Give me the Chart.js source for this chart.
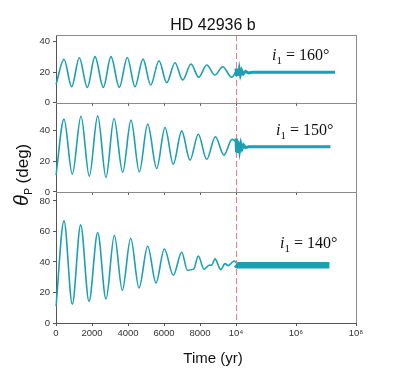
<!DOCTYPE html>
<html>
<head>
<meta charset="utf-8">
<script src="https://cdn.jsdelivr.net/npm/chart.js@4/dist/chart.umd.min.js"></script>
<style>
  html, body { margin: 0; padding: 0; background: #fff; }
</style>
</head>
<body>
<canvas id="chart" width="415" height="382"></canvas>
<script>
// x axis: linear 0..1e4, then log 1e4..1e8
const X_TICKS = [0, 2000, 4000, 6000, 8000, 1e4, 1e6, 1e8];
const X_TICK_LABELS = ['0', '2000', '4000', '6000', '8000', '10⁴', '10⁶', '10⁸'];
const BREAK_T = 1e4;

// panel y ranges (deg), top to bottom
const PANEL_MAX = [44.4, 58.4, 85.9];
const PANEL_INCL = ['160°', '150°', '140°'];

// i1 = 160 deg : oscillation up to 1e4 yr, then settled tail
const T160 = [0, 444, 872, 1294, 1740, 2167, 2628, 3056, 3517, 3961, 4389, 4833, 5261, 5722, 6150, 6611, 7039, 7500, 7928, 8372, 8833, 9261, 9760, 10000];
const V160 = [12, 28.5, 10.5, 29.5, 10.1, 30.2, 10.1, 30.2, 10.1, 29.7, 10.5, 28.6, 11.6, 27.5, 13.1, 26.2, 14.9, 25.4, 16.7, 24.7, 18.2, 23.6, 16.7, 20.5];
const T160_TAIL = [1e4, 1.04e4, 1.08e4, 1.12e4, 1.17e4, 1.23e4, 1.3e4, 1.4e4, 1.55e4, 1.75e4, 2.1e4, 2.6e4, 3.5e4, 2e7];
const V160_TAIL = [22.5, 17.5, 22.3, 17.7, 22, 18, 21.6, 18.4, 21.2, 18.9, 20.6, 19.5, 20, 20];

// i1 = 150 deg
const T150 = [0, 444, 906, 1389, 1850, 2317, 2778, 3222, 3706, 4167, 4628, 5094, 5594, 6056, 6517, 6983, 7444, 7906, 8372, 8850, 9333, 9778, 10000];
const V150 = [11, 47.7, 11.6, 49.6, 10.3, 49.8, 9.6, 48.1, 12.9, 47.0, 13.1, 44.4, 15.3, 42.2, 18.2, 40.0, 20.8, 37.8, 21.2, 36.1, 24.1, 34.4, 33];
const T150_TAIL = [1e4, 1.03e4, 1.06e4, 1.1e4, 1.14e4, 1.19e4, 1.25e4, 1.33e4, 1.45e4, 1.6e4, 1.8e4, 2.1e4, 2.6e4, 1.4e7];
const V150_TAIL = [35, 26, 34.5, 26.5, 33.5, 27, 32.5, 27.5, 31.5, 28.3, 30.6, 29, 29.5, 29.5];

// i1 = 140 deg
const T140 = [0, 444, 906, 1370, 1833, 2317, 2778, 3244, 3683, 4150, 4611, 5094, 5556, 6017, 6517, 6983, 7300, 7650, 7906, 8222, 8500, 8650, 8833, 9150, 9390, 9574, 9889, 10000];
const V140 = [11, 66.9, 12.3, 64.3, 14.2, 59.3, 15.7, 57.5, 21.4, 55.5, 23.0, 50.3, 26.2, 48.5, 31.3, 46.4, 34.6, 35.3, 43.9, 35.2, 37.8, 38.0, 42.0, 35.0, 38.9, 37.6, 40.6, 39.5];
const T140_TAIL = [1e4, 1.1e4, 1.3e7];
const V140_TAIL = [38.5, 37.8, 37.8];

const TEAL = '#1a9fb3';
const AXIS_GREY = '#555';
const FRAME_GREY = '#8a8a8a';
const TICK_FONT = { family: '"Liberation Sans", Arial, sans-serif', size: 9.5 };

const toPoints = (ts, vs) => ts.map((t, i) => ({ x: t, y: vs[i] }));

// linear below the break, log10 above it
class SplitTimeScale extends Chart.LinearScale {
    determineDataLimits() {
        this.min = 0;
        this.max = 1e8;
    }
    buildTicks() {
        return X_TICKS.map(v => ({ value: v }));
    }
    getPixelForValue(value) {
        const f = value <= BREAK_T
            ? 0.6 * value / BREAK_T
            : 0.6 + 0.4 * (Math.log10(value) - 4) / 4;
        return this.getPixelForDecimal(f);
    }
    getValueForPixel(pixel) {
        const f = this.getDecimalForPixel(pixel);
        return f <= 0.6 ? f / 0.6 * BREAK_T : Math.pow(10, 4 + (f - 0.6) / 0.4 * 4);
    }
}
SplitTimeScale.id = 'splitTime';
SplitTimeScale.defaults = {};
Chart.register(SplitTimeScale);

const yScale = (i) => ({
    type: 'linear',
    position: 'left',
    stack: 'panels',
    stackWeight: PANEL_MAX[i],
    min: 0,
    max: PANEL_MAX[i],
    afterFit: s => { s.width = 56; },
    ticks: { stepSize: 20, includeBounds: false, padding: 3, font: TICK_FONT, color: '#333' },
    grid: { drawOnChartArea: false, tickLength: 3, color: AXIS_GREY },
    border: { color: AXIS_GREY }
});

const lineSet = (ts, vs, axis, width, smooth) => ({
    data: toPoints(ts, vs),
    yAxisID: axis,
    borderColor: TEAL,
    borderWidth: width,
    pointRadius: 0,
    fill: false,
    cubicInterpolationMode: smooth ? 'monotone' : 'default',
    tension: 0
});

const drawAnno = (ctx, x, base, deg) => {
    ctx.textAlign = 'left';
    ctx.font = 'italic 16px "Liberation Serif", "Times New Roman", serif';
    ctx.fillText('i', x, base);
    let w = ctx.measureText('i').width;
    ctx.font = '11px "Liberation Serif", "Times New Roman", serif';
    ctx.fillText('1', x + w, base + 4);
    w += ctx.measureText('1').width;
    ctx.font = '16px "Liberation Serif", "Times New Roman", serif';
    ctx.fillText(' = ' + deg, x + w, base);
};

const decorPlugin = {
    id: 'decor',
    beforeDatasetsDraw(chart) {
        const { ctx, chartArea, scales } = chart;
        const x = Math.round(scales.x.getPixelForValue(BREAK_T)) + 0.5;
        ctx.save();
        ctx.strokeStyle = '#e8817f';
        ctx.lineWidth = 1;
        ctx.setLineDash([6, 3]);
        ctx.beginPath();
        ctx.moveTo(x, chartArea.top);
        ctx.lineTo(x, chartArea.bottom);
        ctx.stroke();
        ctx.restore();
    },
    afterDraw(chart) {
        const { ctx, chartArea, scales } = chart;
        const left = chartArea.left, right = chartArea.right;
        ctx.save();
        ctx.strokeStyle = FRAME_GREY;
        ctx.lineWidth = 1;
        ['y1', 'y2', 'y3'].forEach((id, i) => {
            const s = scales[id];
            ctx.beginPath();
            ctx.moveTo(left, Math.round(s.top) + 0.5);
            ctx.lineTo(right, Math.round(s.top) + 0.5);
            ctx.moveTo(Math.round(right) + 0.5, s.top);
            ctx.lineTo(Math.round(right) + 0.5, s.bottom);
            ctx.stroke();
            if (i < 2) {
                // x tick marks under the upper panels
                ctx.strokeStyle = AXIS_GREY;
                ctx.beginPath();
                X_TICKS.forEach(v => {
                    const px = Math.round(scales.x.getPixelForValue(v)) + 0.5;
                    ctx.moveTo(px, s.bottom);
                    ctx.lineTo(px, s.bottom + 3);
                });
                ctx.stroke();
                ctx.strokeStyle = FRAME_GREY;
            }
        });

        ctx.fillStyle = '#111';
        ctx.textAlign = 'center';
        ctx.textBaseline = 'alphabetic';
        ctx.font = '16px "Liberation Sans", Arial, sans-serif';
        ctx.fillText('HD 42936 b', 213, 30);
        ctx.font = '15px "Liberation Sans", Arial, sans-serif';
        ctx.fillText('Time (yr)', 213, 363);

        // y title: theta_P (deg)
        ctx.save();
        ctx.translate(28, 206);
        ctx.rotate(-Math.PI / 2);
        ctx.textAlign = 'left';
        ctx.font = 'italic 20px "Liberation Sans", Arial, sans-serif';
        ctx.fillText('θ', 0, 0);
        const tw = ctx.measureText('θ').width;
        ctx.font = '10px "Liberation Sans", Arial, sans-serif';
        ctx.fillText('P', tw + 0.5, 4);
        ctx.font = '17px "Liberation Sans", Arial, sans-serif';
        ctx.fillText(' (deg)', tw + 7, 0);
        ctx.restore();

        drawAnno(ctx, 272, 60, PANEL_INCL[0]);
        drawAnno(ctx, 276, 135, PANEL_INCL[1]);
        drawAnno(ctx, 280, 248, PANEL_INCL[2]);
        ctx.restore();
    }
};

new Chart(document.getElementById('chart'), {
    type: 'line',
    data: {
        datasets: [
            lineSet(T160, V160, 'y1', 1.6, true),
            lineSet(T160_TAIL, V160_TAIL, 'y1', 3, false),
            lineSet(T150, V150, 'y2', 1.6, true),
            lineSet(T150_TAIL, V150_TAIL, 'y2', 3, false),
            lineSet(T140, V140, 'y3', 1.6, true),
            lineSet(T140_TAIL, V140_TAIL, 'y3', 6.5, false)
        ]
    },
    options: {
        responsive: false,
        animation: false,
        layout: { padding: { left: 0, top: 35, right: 59, bottom: 39 } },
        plugins: { legend: { display: false }, tooltip: { enabled: false } },
        scales: {
            x: {
                type: 'splitTime',
                position: 'bottom',
                afterFit: s => { s.height = 20; },
                ticks: {
                    autoSkip: false, maxRotation: 0, padding: 2, font: TICK_FONT, color: '#333',
                    callback: v => X_TICK_LABELS[X_TICKS.indexOf(v)]
                },
                grid: { drawOnChartArea: false, tickLength: 3, color: AXIS_GREY },
                border: { color: AXIS_GREY }
            },
            // left stacked axes are laid out last-first, so the bottom panel comes first
            y3: yScale(2),
            y2: yScale(1),
            y1: yScale(0)
        }
    },
    plugins: [decorPlugin]
});
</script>
</body>
</html>
